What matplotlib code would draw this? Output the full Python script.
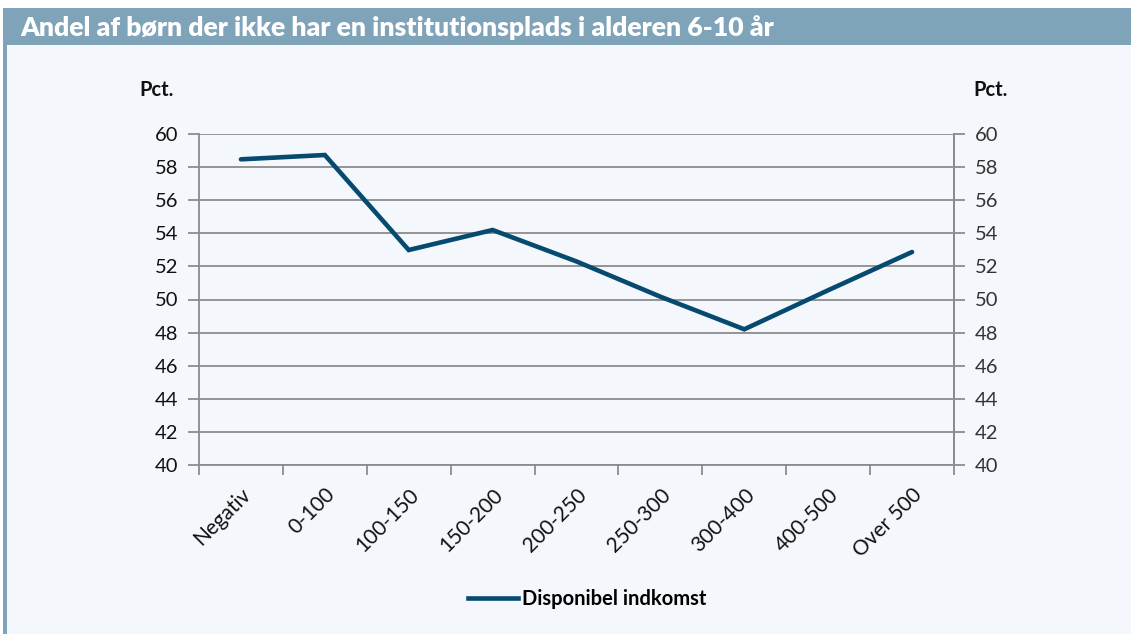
import matplotlib
matplotlib.use("Agg")
import matplotlib.pyplot as plt
from matplotlib.patches import Rectangle
from matplotlib.lines import Line2D
import numpy as np

categories = ["Negativ", "0-100", "100-150", "150-200", "200-250",
              "250-300", "300-400", "400-500", "Over 500"]
values = [58.47, 58.73, 52.99, 54.2, 52.3, 50.17, 48.2, 50.56, 52.87]
yticks = [40, 42, 44, 46, 48, 50, 52, 54, 56, 58, 60]
title = "Andel af børn der ikke har en institutionsplads i alderen 6-10 år"
series_name = "Disponibel indkomst"

plt.rcParams['font.family'] = ['Lato', 'DejaVu Sans']

W, H = 1131, 634
fig = plt.figure(figsize=(W / 100, H / 100), dpi=100)
fig.patch.set_facecolor("white")

bg = "#F4F8FC"
band = "#7FA3B8"
grid_c = "#8C8C8C"
line_c = "#064A70"

fig.add_artist(Rectangle((3 / W, 0), 1 - 3 / W, 1 - 8 / H, transform=fig.transFigure,
                         facecolor=bg, edgecolor="none", zorder=0))
fig.add_artist(Rectangle((3 / W, 1 - 45 / H), 1 - 3 / W, 37 / H, transform=fig.transFigure,
                         facecolor=band, edgecolor="none", zorder=1))
fig.add_artist(Rectangle((3 / W, 0), 4 / W, 1 - 8 / H, transform=fig.transFigure,
                         facecolor=band, edgecolor="none", zorder=1))
fig.text(20 / W, 1 - 28 / H, title, color="white", fontsize=19.2, fontweight="heavy",
         va="center", ha="left", zorder=2)

ax = fig.add_axes([199 / W, 1 - 465 / H, (954 - 199) / W, (465 - 134) / H])
ax.set_facecolor("none")
x = np.arange(len(categories))
ax.plot(x, values, color=line_c, lw=3.3, solid_capstyle="round", solid_joinstyle="miter", zorder=3)

ax.set_xlim(-0.5, len(categories) - 0.5)
ax.set_ylim(40, 60)
ax.set_yticks(yticks)
ax.yaxis.grid(True, color=grid_c, lw=1.3)
ax.set_axisbelow(True)

ax.set_xticks(np.arange(-0.5, len(categories), 1.0))
ax.set_xticklabels([])
ax.set_xticks(x, minor=True)
ax.set_xticklabels(categories, minor=True, rotation=45, ha="right",
                   rotation_mode="anchor", fontsize=15, color="#111111")
ax.tick_params(axis="x", which="minor", length=0, pad=14)
ax.tick_params(axis="x", which="major", length=7, width=1.3, color=grid_c)

ax.tick_params(axis="y", length=8, width=1.3, color=grid_c, labelsize=14.5,
               labelcolor="#111111", pad=7)
ax.spines["top"].set_visible(False)
for s in ["left", "bottom", "right"]:
    ax.spines[s].set_color(grid_c)
    ax.spines[s].set_linewidth(1.3)

ax2 = ax.twinx()
ax2.set_ylim(40, 60)
ax2.set_yticks(yticks)
ax2.tick_params(axis="y", length=8, width=1.3, color=grid_c, labelsize=14.5,
                labelcolor="#333333", pad=7)
for s in ["top", "left", "bottom"]:
    ax2.spines[s].set_visible(False)
ax2.spines["right"].set_color(grid_c)
ax2.spines["right"].set_linewidth(1.3)

fig.text(157 / W, 1 - 90 / H, "Pct.", fontsize=14.5, fontweight="bold", ha="center",
         va="center", color="#111111")
fig.text(991 / W, 1 - 90 / H, "Pct.", fontsize=14.5, fontweight="bold", ha="center",
         va="center", color="#111111")

handle = Line2D([], [], color=line_c, lw=3.3)
fig.legend([handle], [series_name], loc="center", bbox_to_anchor=(587 / W, 1 - 599 / H),
           frameon=False, prop={"weight": "bold", "size": 14.5}, handlelength=2.5,
           handletextpad=0.2)

fig.savefig("out.png", dpi=100, facecolor=fig.get_facecolor())
